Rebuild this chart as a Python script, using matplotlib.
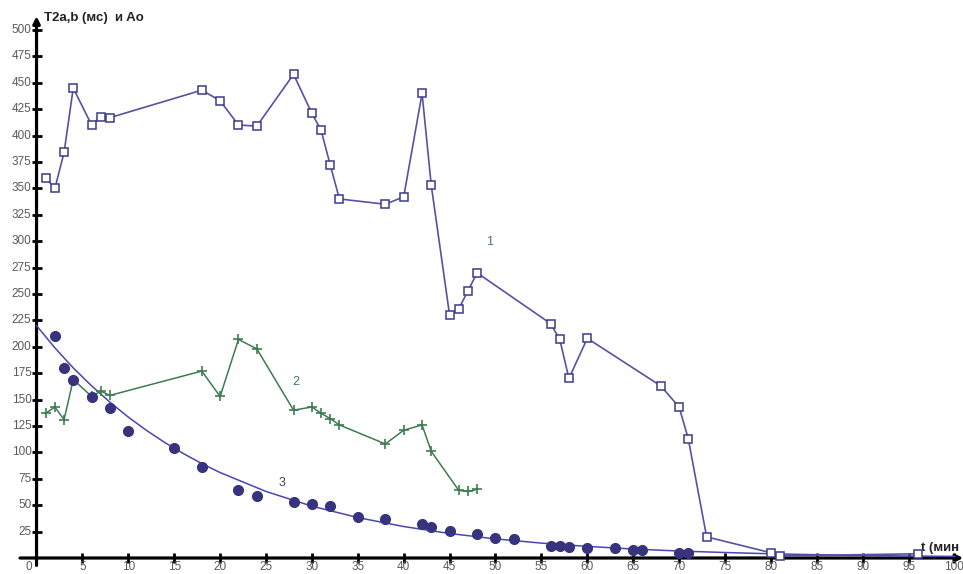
import numpy as np
import matplotlib.pyplot as plt

# curve 1: T2a, squares
t1 = [1, 2, 3, 4, 6, 7, 8, 18, 20, 22, 24, 28, 30, 31, 32, 33, 38, 40, 42, 43,
      45, 46, 47, 48, 56, 57, 58, 60, 68, 70, 71, 73, 80, 81, 96]
y1 = [360, 350, 384, 445, 410, 418, 417, 443, 433, 410, 409, 458, 421, 405, 372, 340,
      335, 342, 440, 353, 230, 236, 253, 270, 222, 207, 170, 208, 163, 143, 113, 20,
      5, 2, 4]

# curve 2: T2b, crosses
t2 = [1, 2, 3, 4, 6, 7, 8, 18, 20, 22, 24, 28, 30, 31, 32, 33, 38, 40, 42, 43, 46, 47, 48]
y2 = [137, 143, 131, 169, 153, 158, 154, 177, 153, 207, 198, 140, 143, 137, 132, 126,
      108, 121, 126, 101, 64, 63, 65]

# curve 3: Ao, dots and the smooth decay through them
t3 = [2, 3, 4, 6, 8, 10, 15, 18, 22, 24, 28, 30, 32, 35, 38, 42, 43, 45, 48, 50, 52,
      56, 57, 58, 60, 63, 65, 66, 70, 71]
y3 = [210, 180, 169, 152, 142, 120, 104, 86, 64, 59, 53, 51, 49, 39, 37, 32, 29, 26,
      23, 19, 18, 11, 11, 10, 9, 9, 8, 8, 5, 5]
t_fit = [0, 2, 4, 6, 8, 10, 12, 14, 16, 18, 20, 25, 30, 35, 40, 45, 50, 55, 60, 65,
         70, 75, 80, 85, 90, 95, 100]
y_fit = [220, 199, 180, 163, 147.5, 133.4, 120.7, 109.2, 98.9, 89.4, 80.9, 63, 49.1,
         38.3, 29.8, 23.2, 18.1, 14.1, 11.0, 8.5, 6.6, 5.2, 4.0, 3.1, 2.4, 1.9, 1.5]

x_ticks = list(range(5, 101, 5))
y_ticks = list(range(25, 501, 25))

fig = plt.figure(figsize=(9.63, 5.74), dpi=100)
ax = fig.add_axes([0, 0, 1, 1])
ax.set_xlim(-3.98, 100.93)
ax.set_ylim(-15.15, 528.4)
ax.axis('off')

tick_font = dict(family='Liberation Sans', fontsize=8.5, color='#5a5a5a')

# axes with arrows
ax.annotate('', xy=(100.95, 0), xytext=(-1.8, 0),
            arrowprops=dict(arrowstyle='-|>', lw=2.3, color='black', mutation_scale=10,
                            shrinkA=0, shrinkB=0), zorder=2)
ax.annotate('', xy=(0, 513), xytext=(0, -7),
            arrowprops=dict(arrowstyle='-|>', lw=2.3, color='black', mutation_scale=10,
                            shrinkA=0, shrinkB=0), zorder=2)
ax.plot(x_ticks, [0] * len(x_ticks), ls='none', marker='|', ms=7, mew=2, color='black', zorder=2)
ax.plot([0] * len(y_ticks), y_ticks, ls='none', marker='_', ms=7, mew=2, color='black', zorder=2)

for x in x_ticks:
    ax.text(x, -8.5, str(x), ha='center', va='center', **tick_font)
ax.text(-0.5, -8.5, '0', ha='right', va='center', **tick_font)
for y in y_ticks:
    ax.text(-0.55, y, str(y), ha='right', va='center', **tick_font)

ax.text(0.8, 511, 'T2a,b (мс)  и Ao', ha='left', va='center',
        family='Liberation Sans', fontsize=9.5, fontweight='bold', color='#222222')
ax.text(96.4, 9.5, 't (мин', ha='left', va='center',
        family='Liberation Sans', fontsize=9.5, fontweight='bold', color='#222222')

# data
ax.plot(t1, y1, color='#5652a3', lw=1.2, marker='s', ms=5.8, mfc='white',
        mec='#3c3a88', mew=1.1, zorder=4)
ax.plot(t2, y2, color='#3e7b50', lw=1.1, marker='+', ms=7, mew=1.2, zorder=4)
ax.plot(t_fit, y_fit, color='#4a46b3', lw=1.1, zorder=3)
ax.plot(t3, y3, ls='none', marker='o', ms=7, color='#38337e', zorder=5)

ax.text(49.4, 299, '1', ha='center', va='center', family='Liberation Sans',
        fontsize=9, color='#4f7a62')
ax.text(28.3, 167, '2', ha='center', va='center', family='Liberation Sans',
        fontsize=9, color='#3e7b50')
ax.text(26.7, 71, '3', ha='center', va='center', family='Liberation Sans',
        fontsize=9, color='#444444')

plt.savefig('out.png', dpi=100)
